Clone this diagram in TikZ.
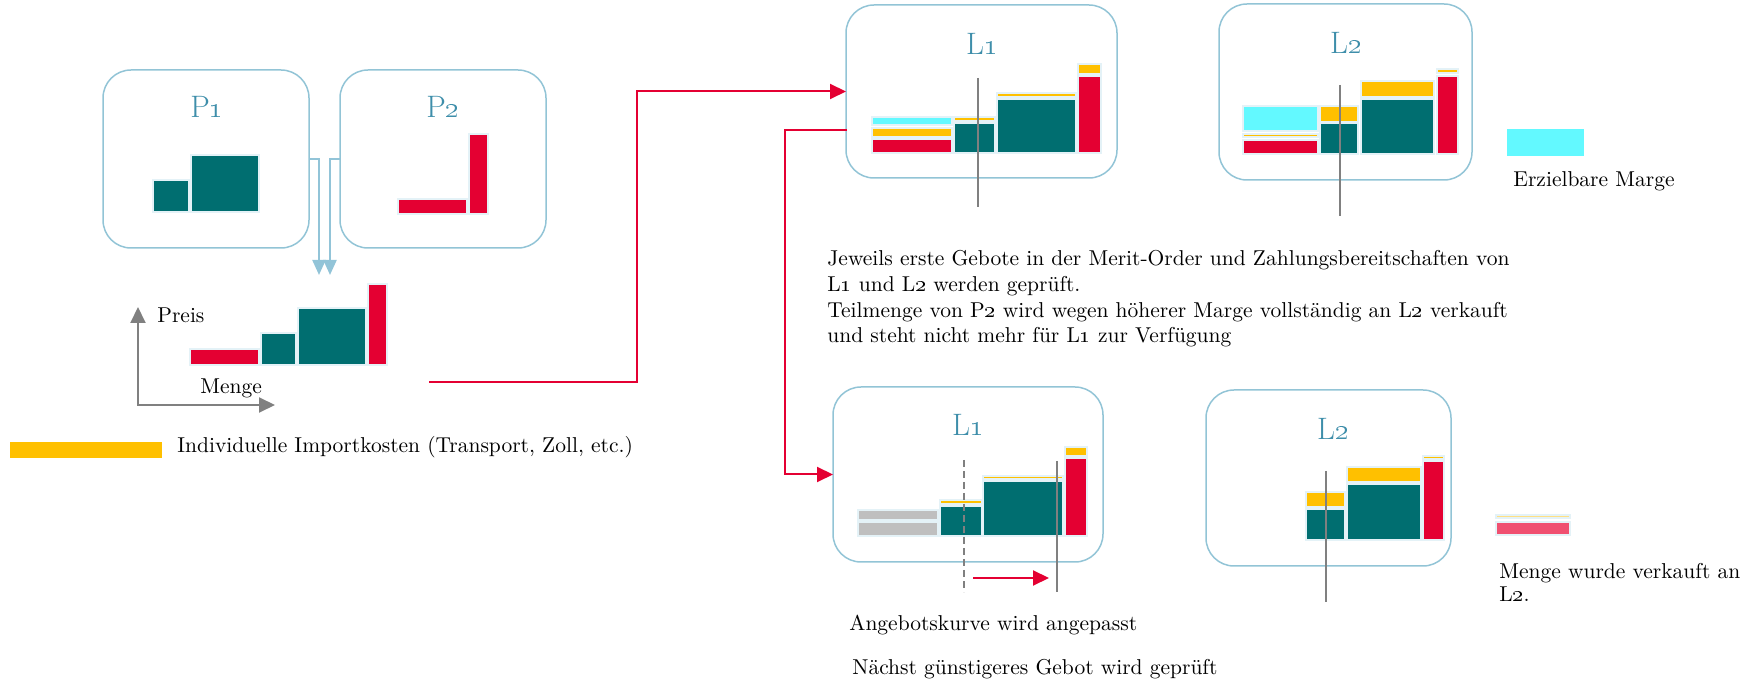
\documentclass[tikz,border=0pt]{standalone}
\usetikzlibrary{arrows.meta}
\definecolor{tealc}{RGB}{0,110,112}
\definecolor{redc}{RGB}{228,0,50}
\definecolor{yelc}{RGB}{255,192,0}
\definecolor{cyanc}{RGB}{99,249,255}
\definecolor{grayc}{RGB}{191,191,191}
\definecolor{boxc}{RGB}{146,196,214}
\definecolor{titlec}{RGB}{62,142,170}
\definecolor{linec}{RGB}{128,128,128}
\definecolor{barline}{RGB}{228,242,247}
\definecolor{lyelc}{RGB}{255,224,130}
\definecolor{pinkc}{RGB}{240,80,112}
\definecolor{arrowblue}{RGB}{146,196,216}
\tikzset{
  panel/.style={draw=boxc, line width=0.75pt, rounded corners=14pt, outer sep=0pt, inner sep=0pt},
  ttl/.style={text=titlec, font=\fontsize{15.5}{18}\selectfont, anchor=base, inner sep=0pt},
  txt/.style={font=\fontsize{10.75}{12.85}\selectfont, anchor=base west, inner sep=0pt, align=left},
  bar/.style={draw=barline, line width=0.6pt},
  redarrow/.style={draw=redc, line width=1pt, -{Triangle[length=8pt,width=7.5pt]}},
  bluearrow/.style={draw=arrowblue, line width=1.1pt, -{Triangle[length=7.5pt,width=6.5pt]}},
  axisarrow/.style={draw=linec, line width=1pt, {Triangle[length=8pt,width=7.5pt]}-{Triangle[length=8pt,width=7.5pt]}},
  vline/.style={draw=linec, line width=0.7pt},
}
\begin{document}
\begin{tikzpicture}[x=0.5pt,y=-0.5pt]
\useasboundingbox (0,0) rectangle (1757,689);

% ---------- panels ----------
\node[panel, minimum width=103pt, minimum height=89pt] (P1) at (206,159) {};
\node[panel, minimum width=103pt, minimum height=89pt] (P2) at (443,159) {};
\node[panel, minimum width=135.5pt, minimum height=86.5pt] (L1a) at (981.5,91.5) {};
\node[panel, minimum width=126.5pt, minimum height=88pt] (L2a) at (1345.5,92) {};
\node[panel, minimum width=135pt, minimum height=87.5pt] (L1b) at (968,474.5) {};
\node[panel, minimum width=122.5pt, minimum height=88pt] (L2b) at (1328.5,478) {};

\node[ttl] (tP1) at (207,118) {P\oldstylenums{1}};
\node[ttl] (tP2) at (443,118) {P\oldstylenums{2}};
\node[ttl] (tL1a) at (982,55) {L\oldstylenums{1}};
\node[ttl] (tL2a) at (1346,54) {L\oldstylenums{2}};
\node[ttl] (tL1b) at (968,436) {L\oldstylenums{1}};
\node[ttl] (tL2b) at (1333,440) {L\oldstylenums{2}};

% ---------- P1 / P2 bars ----------
\path[bar, fill=tealc] (153,180) rectangle (189,212);
\path[bar, fill=tealc] (191,155) rectangle (259,212);
\path[bar, fill=redc] (398,199) rectangle (467,214);
\path[bar, fill=redc] (469,134) rectangle (488,214);

% ---------- combined curve ----------
\path[bar, fill=redc] (190,349) rectangle (259,365);
\path[bar, fill=tealc] (261,333) rectangle (296,365);
\path[bar, fill=tealc] (298,308) rectangle (366,365);
\path[bar, fill=redc] (368,284) rectangle (387,365);

\coordinate (O) at (138,405);
\coordinate (ytip) at (138,307);
\coordinate (xtip) at (275,405);
\draw[axisarrow] (ytip) -- (O) -- (xtip);
\node[txt] (preis) at (157,323) {Preis};
\node[txt] (menge) at (200,394) {Menge};

% blue arrows
\coordinate (b1) at (319,275);
\coordinate (b2) at (330,275);
\draw[bluearrow] (P1.east) -| (b1);
\draw[bluearrow] (P2.west) -| (b2);

% legend import costs
\path[fill=yelc] (10,442) rectangle (162,458);
\node[txt] (legimp) at (177,453) {Individuelle Importkosten (Transport, Zoll, etc.)};

% ---------- L1 top ----------
\path[bar, fill=redc] (872,139) rectangle (952,153);
\path[bar, fill=yelc] (872,128) rectangle (952,137);
\path[bar, fill=cyanc] (872,117) rectangle (952,125);
\path[bar, fill=tealc] (954,123) rectangle (995,153);
\path[bar, fill=yelc] (954,117) rectangle (995,121);
\path[bar, fill=tealc] (997,99) rectangle (1076,153);
\path[bar, fill=yelc] (997,93) rectangle (1076,97);
\path[bar, fill=redc] (1078,76) rectangle (1101,153);
\path[bar, fill=yelc] (1078,64) rectangle (1101,74);
\draw[vline] (978,78) -- (978,207);

% ---------- L2 top ----------
\path[bar, fill=redc] (1243,140) rectangle (1318,154);
\path[bar, fill=yelc] (1243,134) rectangle (1318,137);
\path[bar, fill=cyanc] (1243,106) rectangle (1318,131);
\path[bar, fill=tealc] (1320,123) rectangle (1358,154);
\path[bar, fill=yelc] (1320,106) rectangle (1358,122);
\path[bar, fill=tealc] (1361,99) rectangle (1434,154);
\path[bar, fill=yelc] (1361,81) rectangle (1434,97);
\path[bar, fill=redc] (1437,76) rectangle (1458,154);
\path[bar, fill=yelc] (1437,69) rectangle (1458,73);
\draw[vline] (1340,85) -- (1340,216);

% legend margin
\path[fill=cyanc] (1507,129) rectangle (1584,156);
\node[txt] (legmarge) at (1513,187) {Erzielbare Marge};

% explanation (anchor at baseline of last line)
\node[txt] (expl) at (827,343) {Jeweils erste Gebote in der Merit-Order und Zahlungsbereitschaften von\\
L\oldstylenums{1} und L\oldstylenums{2} werden geprüft.\\
Teilmenge von P\oldstylenums{2} wird wegen höherer Marge vollständig an L\oldstylenums{2} verkauft\\
und steht nicht mehr für L\oldstylenums{1} zur Verfügung};

% ---------- L1 bottom ----------
\path[bar, fill=grayc] (858,522) rectangle (938,536);
\path[bar, fill=grayc] (858,510) rectangle (938,520);
\path[bar, fill=tealc] (940,506) rectangle (982,536);
\path[bar, fill=yelc] (940,500) rectangle (982,504);
\path[bar, fill=tealc] (983,481) rectangle (1063,536);
\path[bar, fill=yelc] (983,476) rectangle (1063,479);
\path[bar, fill=redc] (1065,458) rectangle (1087,536);
\path[bar, fill=yelc] (1065,447) rectangle (1087,456);
\draw[vline, dash pattern=on 3.5pt off 2pt] (964,460) -- (964,592);
\draw[vline] (1057,461) -- (1057,592);
\coordinate (sh1) at (973,578);
\coordinate (sh2) at (1049,578);
\draw[redarrow] (sh1) -- (sh2);

% ---------- L2 bottom ----------
\path[bar, fill=tealc] (1306,509) rectangle (1345,540);
\path[bar, fill=yelc] (1306,492) rectangle (1345,507);
\path[bar, fill=tealc] (1347,484) rectangle (1421,540);
\path[bar, fill=yelc] (1347,467) rectangle (1421,482);
\path[bar, fill=redc] (1423,461) rectangle (1444,540);
\path[bar, fill=yelc] (1423,456) rectangle (1444,459);
\draw[vline] (1326,471) -- (1326,602);

% legend sold (anchor at baseline of last line)
\path[bar, fill=lyelc] (1496,515) rectangle (1570,518);
\path[bar, fill=pinkc] (1496,522) rectangle (1570,535);
\node[txt, font=\fontsize{10.75}{12}\selectfont] (legsold) at (1499,602) {Menge wurde verkauft an\\L\oldstylenums{2}.};

\node[txt] (anp) at (849,630) {Angebotskurve wird angepasst};
\node[txt] (next) at (852,674) {Nächst günstigeres Gebot wird geprüft};

% ---------- red connectors ----------
\coordinate (cs) at (429,382);
\coordinate (j1) at (637,382);
\draw[redarrow] (cs) -- (j1) |- (L1a.west);
\coordinate (s2) at (847,130);
\coordinate (j2) at (785,130);
\draw[redarrow] (s2) -- (j2) |- (L1b.west);
\end{tikzpicture}
\end{document}
